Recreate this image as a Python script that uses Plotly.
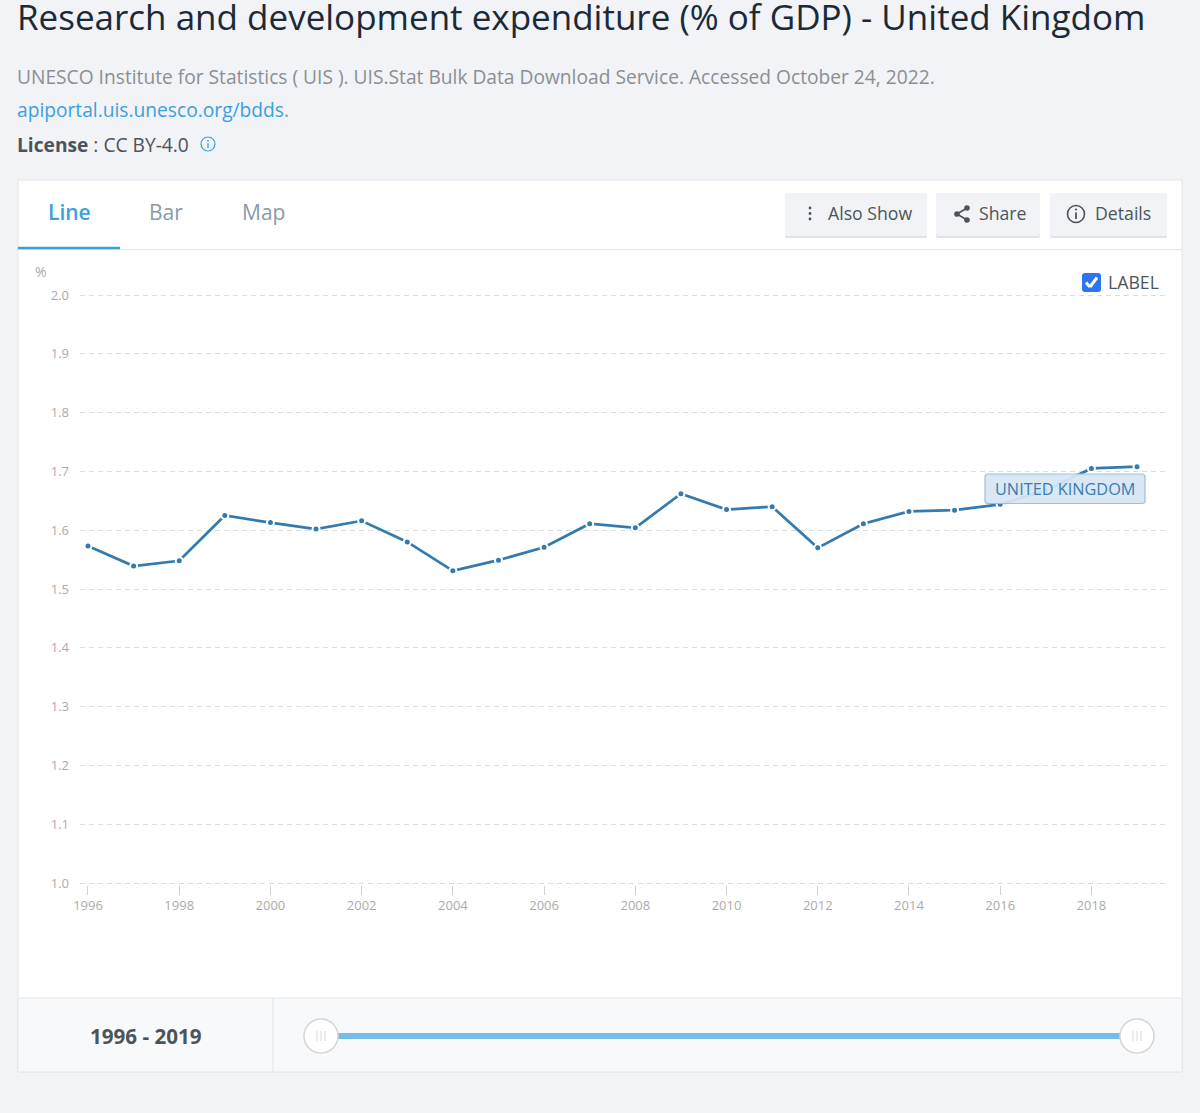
import plotly.graph_objects as go

W, H = 1200, 1113

years = list(range(1996, 2020))
rd_pct = [1.573, 1.539, 1.548, 1.625, 1.613, 1.602, 1.616, 1.580, 1.531, 1.549, 1.571, 1.611,
          1.604, 1.662, 1.635, 1.640, 1.570, 1.611, 1.632, 1.634, 1.644, 1.668, 1.705, 1.708]
x_ticks = list(range(1996, 2020, 2))
y_ticks = [1.0, 1.1, 1.2, 1.3, 1.4, 1.5, 1.6, 1.7, 1.8, 1.9, 2.0]

FONT = "Open Sans"
BLUE = "#3aa0e0"
GREY = "#4d5459"
TICK_GREY = "#ababab"


def px(x):
    return x / W


def py(y):
    return 1 - y / H


def box(x0, y0, x1, y1, fill, line=None, width=1, layer="below"):
    return dict(type="rect", xref="paper", yref="paper", x0=px(x0), x1=px(x1), y0=py(y0), y1=py(y1),
                fillcolor=fill, line=dict(color=line or fill, width=width if line else 0), layer=layer)


def rbox(x0, y0, x1, y1, r, fill, line=None, width=1, layer="above"):
    # rounded rectangle, plotly rects have no corner radius
    pts = [("M", x0 + r, y0), ("L", x1 - r, y0), ("Q", x1, y0), ("", x1, y0 + r), ("L", x1, y1 - r),
           ("Q", x1, y1), ("", x1 - r, y1), ("L", x0 + r, y1), ("Q", x0, y1), ("", x0, y1 - r),
           ("L", x0, y0 + r), ("Q", x0, y0), ("", x0 + r, y0)]
    d = " ".join("%s%.5f,%.5f" % (c, px(x), py(y)) for c, x, y in pts) + " Z"
    return dict(type="path", xref="paper", yref="paper", path=d, fillcolor=fill,
                line=dict(color=line or fill, width=width if line else 0), layer=layer)


def circle(cx, cy, r, fill, line=None, width=1, layer="above"):
    return dict(type="circle", xref="paper", yref="paper", x0=px(cx - r), x1=px(cx + r), y0=py(cy + r), y1=py(cy - r),
                fillcolor=fill, line=dict(color=line or fill, width=width if line else 0), layer=layer)


def seg(x0, y0, x1, y1, color, width=1, layer="above"):
    return dict(type="line", xref="paper", yref="paper", x0=px(x0), x1=px(x1), y0=py(y0), y1=py(y1),
                line=dict(color=color, width=width), layer=layer)


def label(x, y, text, size, color, anchor="left", weight=None):
    font = dict(family=FONT, size=size, color=color)
    if weight:
        font["weight"] = weight
    return dict(x=px(x), y=py(y), xref="paper", yref="paper", text=text, showarrow=False, xanchor=anchor,
                yanchor="middle", align=anchor, font=font, borderpad=0, borderwidth=0)


fig = go.Figure()
fig.add_trace(go.Scatter(
    x=years, y=rd_pct, mode="lines+markers",
    line=dict(color="#337ab0", width=2.7),
    marker=dict(color="#337ab0", size=7, line=dict(color="white", width=2)),
    showlegend=False, cliponaxis=False,
))

shapes = [
    # card
    box(18, 180, 1182, 1072, "white", "#e3e6ea"),
    seg(18, 249.5, 1182, 249.5, "#e3e7ea", 1, "below"),
    seg(18, 248, 120, 248, BLUE, 2.5, "below"),
    # footer
    box(18, 998, 1182, 1072, "#f7f9fb", "#e3e6ea"),
    seg(273, 998, 273, 1072, "#e3e6ea", 1, "below"),
    # slider
    seg(338, 1036, 1120, 1036, "#76bbe9", 6),
    circle(321, 1036, 17, "white", "#d3d5d7", 1.5),
    circle(1137, 1036, 17, "white", "#d3d5d7", 1.5),
    # tab buttons
    rbox(785, 195, 927, 238, 2, "#e0e3e7", layer="below"),
    rbox(936, 195, 1040, 238, 2, "#e0e3e7", layer="below"),
    rbox(1050, 195, 1167, 238, 2, "#e0e3e7", layer="below"),
    rbox(785, 193, 927, 236, 2, "#f1f3f6", layer="below"),
    rbox(936, 193, 1040, 236, 2, "#f1f3f6", layer="below"),
    rbox(1050, 193, 1167, 236, 2, "#f1f3f6", layer="below"),
    # kebab icon
    circle(810, 208, 1.4, GREY), circle(810, 213.5, 1.4, GREY), circle(810, 219, 1.4, GREY),
    # share icon
    seg(957, 214, 967, 208, GREY, 1.6), seg(957, 214, 967, 220, GREY, 1.6),
    circle(957, 214, 2.8, GREY), circle(967, 208, 2.8, GREY), circle(967, 220, 2.8, GREY),
    # details icon
    circle(1076, 214, 8.5, "rgba(0,0,0,0)", GREY, 1.6),
    seg(1076, 212.5, 1076, 219, GREY, 1.8), circle(1076, 209.5, 1.1, GREY),
    # license info icon
    circle(208, 144, 7, "rgba(0,0,0,0)", BLUE, 1.2),
    seg(208, 143, 208, 148, BLUE, 1.3), circle(208, 140.8, 0.9, BLUE),
    # checkbox
    rbox(1082, 273, 1101, 292, 3, "#2a75f0"),
    seg(1086, 282.5, 1090, 287, "white", 3), seg(1090, 287, 1097, 277.5, "white", 3),
    # series label, translucent so the line shows through
    rbox(985, 474, 1145, 503.5, 3, "rgba(214,230,243,0.93)", "#9dc0dc", 1.2),
]
# slider grip lines
for cx in (321, 1137):
    for dx in (-4, 0, 4):
        shapes.append(seg(cx + dx, 1031, cx + dx, 1041, "#d5d7d9", 1))

annotations = [
    # the top of the title is cut by the page edge in the original screenshot too
    label(17, 16, "Research and development expenditure (% of GDP) - United Kingdom", 35, "#1b2a36", weight=500),
    label(17, 77, "UNESCO Institute for Statistics ( UIS ). UIS.Stat Bulk Data Download Service. Accessed October 24, 2022.",
          19.2, "#8b8f93"),
    label(17, 110, "<span style='color:%s'>apiportal.uis.unesco.org/bdds</span><span style='color:#8b8f93'>.</span>" % BLUE,
          19.2, "#8b8f93"),
    label(17, 145, "<b>License</b> : CC BY-4.0", 19.2, GREY),
    label(48, 211.5, "Line", 21, BLUE, weight=600),
    label(149, 211.5, "Bar", 21, "#8a9ba8"),
    label(242, 211.5, "Map", 21, "#8a9ba8"),
    label(828, 213, "Also Show", 17.7, GREY),
    label(979, 213, "Share", 17.7, GREY),
    label(1095, 213, "Details", 17.7, GREY),
    label(1108, 281.5, "LABEL", 17.7, GREY),
    label(35, 271.5, "%", 14, TICK_GREY),
    label(1065, 488.5, "UNITED KINGDOM", 16.3, "#3b7cb0", "center"),
    label(146, 1035.5, "<b>1996 - 2019</b>", 20.6, GREY, "center"),
]

fig.update_layout(
    width=W, height=H,
    margin=dict(l=0, r=0, t=0, b=0, autoexpand=False),
    paper_bgcolor="#f1f3f7",
    plot_bgcolor="rgba(0,0,0,0)",
    font=dict(family=FONT, size=13, color=TICK_GREY),
    shapes=shapes,
    annotations=annotations,
    xaxis=dict(
        domain=[px(80), px(1167)],
        range=[1996 - 8 / 45.64, 2019 + 30 / 45.64],
        tickvals=x_ticks, ticktext=[str(t) for t in x_ticks],
        showgrid=False, zeroline=False, showline=False, automargin=False,
        ticks="outside", ticklen=9, tickcolor="#d0d0d0", tickwidth=1,
        tickfont=dict(family=FONT, size=13, color=TICK_GREY),
    ),
    yaxis=dict(
        # padded a little, plotly drops gridlines within 1px of the axis ends
        domain=[py(884.76), py(293.24)],
        range=[0.997, 2.003],
        tickvals=y_ticks, ticktext=["%.1f" % t for t in y_ticks],
        showgrid=True, gridcolor="#dcdcdc", griddash="5px,4px", gridwidth=1,
        zeroline=False, showline=False, ticks="", ticklabelstandoff=10, automargin=False,
        tickfont=dict(family=FONT, size=13, color=TICK_GREY),
    ),
)

post = """
document.body.style.margin = '0';
document.body.style.background = '#f1f3f7';
"""
fig.write_html("out.html", config=dict(displayModeBar=False), post_script=post)
